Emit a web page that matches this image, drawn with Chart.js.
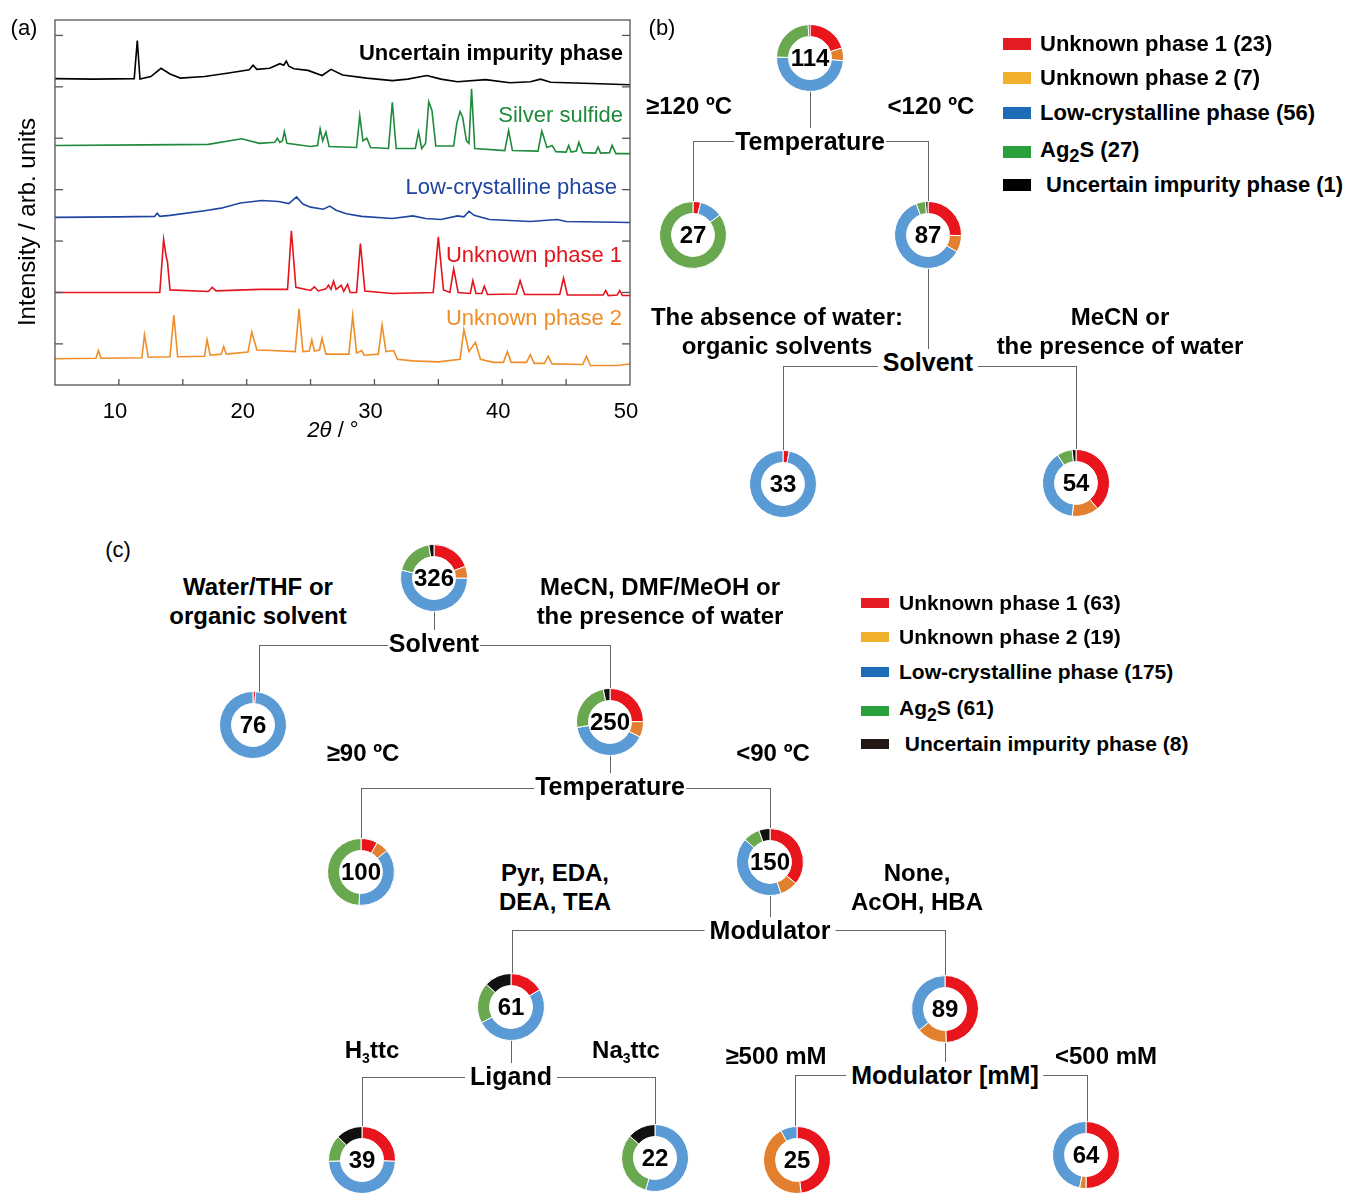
<!DOCTYPE html>
<html><head><meta charset="utf-8">
<script src="https://cdn.jsdelivr.net/npm/chart.js@4/dist/chart.umd.min.js"></script>
<style>
body{margin:0;background:#fff;}
#root{position:relative;width:1351px;height:1193px;overflow:hidden;background:#fff;font-family:"Liberation Sans",Arial,sans-serif;color:#000;}
.t{position:absolute;white-space:nowrap;transform:translate(-50%,-50%);text-align:center;}
.b{font-weight:bold;}
.node{font-weight:bold;font-size:25px;background:#fff;padding:0 5px;line-height:26px;}
.br{font-weight:bold;font-size:24px;line-height:29px;}
.ln{position:absolute;background:#666;}
.sw{position:absolute;}
.lg{position:absolute;white-space:nowrap;font-weight:bold;transform:translateY(-50%);}
.num{font-weight:bold;font-size:24px;}
canvas{display:block;}
</style></head>
<body><div id="root">
<canvas id="xrd" width="660" height="450" style="position:absolute;left:0;top:0;width:660px;height:450px;"></canvas>
</div>
<script>
// ---------------- data ----------------
const xTickValues = [10, 20, 30, 40, 50];
const seriesNames = ['Uncertain impurity phase', 'Silver sulfide', 'Low-crystalline phase', 'Unknown phase 1', 'Unknown phase 2'];
const seriesColors = ['#000000', '#1f8a3c', '#1f45a0', '#e3141c', '#ef8e28'];

const xrdUncertain = [[5,5.16],[8,5.15],[11.2,5.16],[11.44,5.90],[11.65,5.15],[12.5,5.2],[13.3,5.36],[14.0,5.25],[14.8,5.17],[16.7,5.2],[18.6,5.27],[20.2,5.33],[20.5,5.42],[20.8,5.34],[21.8,5.36],[22.6,5.45],[22.9,5.42],[23.1,5.50],[23.3,5.40],[23.7,5.35],[24.8,5.32],[25.9,5.22],[26.6,5.34],[27.5,5.23],[29.4,5.17],[31.4,5.12],[32.6,5.15],[34.1,5.22],[35.2,5.15],[36.5,5.10],[38.7,5.14],[40.6,5.08],[42.2,5.10],[43.0,5.15],[43.8,5.09],[47.6,5.06],[50,5.04]];
const xrdSilver = [[5,3.86],[12,3.87],[17,3.88],[19.6,3.99],[21,3.9],[22.2,3.92],[22.4,4.0],[22.6,3.92],[22.8,3.95],[22.95,4.13],[23.15,3.9],[25.0,3.84],[25.55,3.86],[25.75,4.18],[25.95,3.95],[26.2,4.12],[26.45,3.84],[28.6,3.82],[28.85,4.44],[29.1,3.95],[29.4,4.0],[29.7,3.82],[31.1,3.80],[31.4,4.70],[31.7,3.80],[33.2,3.80],[33.45,4.12],[33.7,3.80],[34.0,3.9],[34.25,4.71],[34.5,4.54],[34.8,3.85],[36.2,3.85],[36.45,4.30],[36.7,4.52],[36.9,4.41],[37.2,3.95],[37.4,3.9],[37.6,4.96],[37.85,3.80],[40.2,3.76],[40.5,4.15],[40.8,3.76],[42.8,3.75],[43.1,4.14],[43.5,3.82],[43.9,3.86],[44.2,3.74],[45.0,3.73],[45.2,3.86],[45.4,3.73],[45.8,3.75],[46.0,3.92],[46.3,3.72],[47.3,3.71],[47.5,3.83],[47.7,3.71],[48.4,3.72],[48.6,3.86],[48.9,3.70],[50,3.70]];
const xrdLowCryst = [[5,2.46],[10,2.47],[12.8,2.48],[13,2.54],[13.2,2.48],[14,2.5],[16.7,2.59],[18,2.64],[19.5,2.74],[21.2,2.79],[22.5,2.77],[23.3,2.73],[23.9,2.86],[24.4,2.72],[25.0,2.66],[26.0,2.62],[26.5,2.68],[27.0,2.6],[27.8,2.53],[29.0,2.48],[31.4,2.44],[33.0,2.49],[34.0,2.44],[35.2,2.42],[36.5,2.49],[37.0,2.47],[37.4,2.58],[37.8,2.5],[39,2.42],[42.2,2.38],[44.3,2.42],[45,2.38],[50,2.36]];
const xrdUnknown1 = [[5,1.0],[13.2,1.0],[13.5,2.03],[13.7,1.7],[13.8,1.6],[14.0,1.05],[17.0,1.02],[17.3,1.1],[17.6,1.03],[21,1.06],[23.2,1.06],[23.5,2.20],[23.85,1.1],[25.0,1.04],[25.3,1.11],[25.6,1.03],[26.2,1.07],[26.4,1.14],[26.6,1.06],[26.8,1.22],[27.0,1.06],[27.4,1.14],[27.6,1.02],[27.9,1.16],[28.1,1.0],[28.6,1.0],[28.9,1.95],[29.25,1.03],[31.4,0.98],[34.6,1.0],[35.0,2.08],[35.4,1.05],[35.9,1.0],[36.2,1.46],[36.55,1.0],[37.5,0.98],[37.7,1.23],[37.95,0.98],[38.4,0.98],[38.6,1.12],[38.85,0.96],[41.1,0.97],[41.4,1.23],[41.75,0.96],[44.5,0.96],[44.8,1.28],[45.1,0.95],[47.9,0.95],[48.1,1.04],[48.3,0.94],[49.0,0.95],[49.2,1.04],[49.4,0.94],[50,0.94]];
const xrdUnknown2 = [[5,-0.29],[8.2,-0.28],[8.4,-0.13],[8.6,-0.28],[11.8,-0.27],[12.0,0.175],[12.3,-0.26],[14.0,-0.25],[14.3,0.56],[14.6,-0.25],[16.7,-0.24],[16.9,0.08],[17.15,-0.22],[18.0,-0.2],[18.2,-0.05],[18.4,-0.2],[20.1,-0.16],[20.4,0.23],[20.8,-0.12],[22,-0.13],[23.8,-0.15],[24.1,0.68],[24.4,-0.15],[24.9,-0.14],[25.1,0.08],[25.3,-0.14],[25.7,-0.12],[25.9,0.11],[26.2,-0.2],[28.0,-0.2],[28.3,0.55],[28.6,-0.18],[29.0,-0.13],[29.2,-0.22],[30.3,-0.2],[30.6,0.37],[30.9,-0.15],[31.5,-0.13],[31.8,-0.3],[33,-0.33],[35,-0.35],[36.7,-0.3],[37.0,0.28],[37.4,-0.15],[37.9,0.03],[38.3,-0.3],[39.3,-0.36],[40.1,-0.36],[40.4,-0.15],[40.7,-0.36],[41.9,-0.36],[42.2,-0.21],[42.5,-0.38],[43.3,-0.38],[43.6,-0.24],[43.9,-0.39],[46.3,-0.4],[46.6,-0.24],[46.9,-0.42],[49,-0.42],[50,-0.39]];

const phaseNames = ['Unknown phase 1', 'Unknown phase 2', 'Low-crystalline phase', 'Ag<sub>2</sub>S', 'Uncertain impurity phase'];
const donutColors = ['#e8161c', '#e3802f', '#5b9bd5', '#6aa84f', '#111111'];
const legendColorsB = ['#e41d24', '#f1b12d', '#1c6db5', '#2aa03c', '#000000'];
const legendColorsC = ['#e41d24', '#f1b12d', '#1c6db5', '#2aa03c', '#231815'];
const legendCountsB = [23, 7, 56, 27, 1];
const legendCountsC = [63, 19, 175, 61, 8];

// tree (b) node compositions: [unknown1, unknown2, low-cryst, Ag2S, uncertain]
const b114 = [23, 7, 56, 27, 1];
const b27 = [1, 0, 3, 23, 0];
const b87 = [22, 7, 53, 4, 1];
const b33 = [1, 0, 32, 0, 0];
const b54 = [21, 7, 21, 4, 1];
// tree (c)
const c326 = [63, 19, 175, 61, 8];
const c76 = [1, 0, 75, 0, 0];
const c250 = [62, 19, 100, 61, 8];
const c100 = [8, 6, 37, 49, 0];
const c150 = [54, 13, 63, 12, 8];
const c61 = [10, 0, 31, 12, 8];
const c89 = [44, 13, 32, 0, 0];
const c39 = [10, 0, 19, 5, 5];
const c22 = [0, 0, 12, 7, 3];
const c25 = [12, 11, 2, 0, 0];
const c64 = [32, 2, 30, 0, 0];

// ---------------- panel (a) ----------------
const xrdSets = [xrdUncertain, xrdSilver, xrdLowCryst, xrdUnknown1, xrdUnknown2];
const innerTicks = {
  id: 'innerTicks',
  afterDraw(chart) {
    const ctx = chart.ctx, a = chart.chartArea, xs = chart.scales.x, ys = chart.scales.y;
    ctx.save();
    ctx.strokeStyle = '#555'; ctx.lineWidth = 1.3;
    ctx.strokeRect(a.left, a.top, a.right - a.left, a.bottom - a.top);
    for (let v = 10; v < 50; v += 5) {
      const p = xs.getPixelForValue(v);
      ctx.beginPath(); ctx.moveTo(p, a.bottom); ctx.lineTo(p, a.bottom - 6); ctx.stroke();
    }
    for (let v = 0; v <= 6; v++) {
      const p = ys.getPixelForValue(v);
      ctx.beginPath(); ctx.moveTo(a.left, p); ctx.lineTo(a.left + 8, p); ctx.stroke();
      ctx.beginPath(); ctx.moveTo(a.right, p); ctx.lineTo(a.right - 8, p); ctx.stroke();
    }
    ctx.restore();
  }
};
new Chart(document.getElementById('xrd'), {
  type: 'line',
  data: {
    datasets: xrdSets.map((s, i) => ({
      label: seriesNames[i],
      data: s.map(p => ({x: p[0], y: p[1]})),
      borderColor: seriesColors[i], borderWidth: 1.6, pointRadius: 0, tension: 0, fill: false
    }))
  },
  options: {
    responsive: false, animation: false, devicePixelRatio: 1,
    layout: {padding: {left: 55, top: 20, right: 30, bottom: 0}},
    plugins: {legend: {display: false}, tooltip: {enabled: false}},
    scales: {
      x: {type: 'linear', min: 5, max: 50,
        grid: {display: false, drawTicks: false}, border: {display: false},
        afterBuildTicks(s) { s.ticks = xTickValues.map(v => ({value: v})); },
        afterFit(s) { s.height = 65; s.paddingLeft = 0; s.paddingRight = 0; },
        ticks: {padding: 14, labelOffset: -4, color: '#000', font: {family: 'Liberation Sans', size: 22}, maxRotation: 0, autoSkip: false}},
      y: {display: false, min: -0.8, max: 6.3}
    }
  },
  plugins: [innerTicks]
});

// ---------------- helpers ----------------
const root = document.getElementById('root');
function txt(html, x, y, cls, style) {
  const d = document.createElement('div');
  d.className = 't ' + (cls || '');
  d.innerHTML = html;
  d.style.left = x + 'px'; d.style.top = y + 'px';
  if (style) d.style.cssText += style;
  root.appendChild(d);
  return d;
}
function hl(x1, x2, y) { const d = document.createElement('div'); d.className = 'ln'; d.style.cssText += `left:${x1}px;top:${y}px;width:${x2 - x1}px;height:1.3px;`; root.appendChild(d); }
function vl(x, y1, y2) { const d = document.createElement('div'); d.className = 'ln'; d.style.cssText += `left:${x}px;top:${y1}px;width:1.3px;height:${y2 - y1}px;`; root.appendChild(d); }
function donut(values, cx, cy) {
  const size = 68;
  const c = document.createElement('canvas');
  c.width = size; c.height = size;
  c.style.cssText = `position:absolute;left:${cx - size / 2}px;top:${cy - size / 2}px;width:${size}px;height:${size}px;`;
  root.appendChild(c);
  new Chart(c, {
    type: 'doughnut',
    data: {labels: phaseNames, datasets: [{data: values, backgroundColor: donutColors, borderColor: '#fff', borderWidth: values.map(v => v > 0 ? 1 : 0)}]},
    options: {responsive: false, animation: false, devicePixelRatio: 1, cutout: '64%',
      plugins: {legend: {display: false}, tooltip: {enabled: false}}}
  });
  const total = values.reduce((a, b) => a + b, 0);
  txt(String(total), cx, cy, 'num');
}
function legend(colors, counts, x, ys, tx, sw, fs) {
  counts.forEach((n, i) => {
    const s = document.createElement('div');
    s.className = 'sw';
    s.style.cssText += `left:${x}px;top:${ys[i] - sw[1] / 2}px;width:${sw[0]}px;height:${sw[1]}px;background:${colors[i]};`;
    root.appendChild(s);
    const l = document.createElement('div');
    l.className = 'lg';
    l.innerHTML = (i === 4 ? '&nbsp;' : '') + phaseNames[i] + ' (' + n + ')';
    l.style.cssText += `left:${tx}px;top:${ys[i]}px;font-size:${fs}px;`;
    root.appendChild(l);
  });
}

// ---------------- panel (a) texts ----------------
txt('(a)', 24, 28, '', 'font-size:22px;');
txt('Intensity / arb. units', 27, 222, '', 'font-size:24px;transform:translate(-50%,-50%) rotate(-90deg);');
txt('<i>2θ</i> / °', 333, 430, '', 'font-size:22px;');
const labA = [[seriesNames[0], 623, 53, 'bold'], [seriesNames[1], 623, 115, 'normal'], [seriesNames[2], 617, 187, 'normal'], [seriesNames[3], 622, 255, 'normal'], [seriesNames[4], 622, 318, 'normal']];
labA.forEach((l, i) => {
  txt(l[0], l[1], l[2], '', `font-size:22px;font-weight:${l[3]};color:${seriesColors[i]};transform:translate(-100%,-50%);`);
});

// ---------------- panel (b) ----------------
txt('(b)', 662, 28, '', 'font-size:22px;');
vl(810, 91, 130); hl(693, 928, 141); vl(693, 141, 202); vl(928, 141, 202);
vl(928, 268, 352); hl(783, 1076, 366); vl(783, 366, 451); vl(1076, 366, 450);
donut(b114, 810, 58);
donut(b27, 693, 235);
donut(b87, 928, 235);
donut(b33, 783, 484);
donut(b54, 1076, 483);
txt('Temperature', 810, 141, 'node', 'padding:0 1px;');
txt('Solvent', 928, 362, 'node');
txt('≥120 ºC', 689, 105, 'br');
txt('&lt;120 ºC', 931, 105, 'br');
txt('The absence of water:<br>organic solvents', 777, 331, 'br');
txt('MeCN or<br>the presence of water', 1120, 331, 'br');
legend(legendColorsB, legendCountsB, 1003, [44, 78, 113, 152, 185], 1040, [28, 12], 22);

// ---------------- panel (c) ----------------
txt('(c)', 118, 550, '', 'font-size:22px;');
vl(434, 611, 632); hl(259, 610, 645); vl(259, 645, 692); vl(610, 645, 689);
vl(610, 755, 776); hl(361, 770, 788); vl(361, 788, 839); vl(770, 788, 829);
vl(770, 895, 918); hl(512, 945, 930); vl(512, 930, 974); vl(945, 930, 976);
vl(511, 1040, 1064); hl(362, 655, 1077); vl(362, 1077, 1127); vl(655, 1077, 1125);
vl(945, 1042, 1062); hl(795, 1087, 1075); vl(795, 1075, 1127); vl(1087, 1075, 1122);
donut(c326, 434, 578);
donut(c76, 253, 725);
donut(c250, 610, 722);
donut(c100, 361, 872);
donut(c150, 770, 862);
donut(c61, 511, 1007);
donut(c89, 945, 1009);
donut(c39, 362, 1160);
donut(c22, 655, 1158);
donut(c25, 797, 1160);
donut(c64, 1086, 1155);
txt('Solvent', 434, 643, 'node', 'padding:0 1px;');
txt('Temperature', 610, 786, 'node', 'padding:0 1px;');
txt('Modulator', 770, 930, 'node');
txt('Ligand', 511, 1076, 'node');
txt('Modulator [mM]', 945, 1075, 'node');
txt('Water/THF or<br>organic solvent', 258, 601, 'br');
txt('MeCN, DMF/MeOH or<br>the presence of water', 660, 601, 'br');
txt('≥90 ºC', 363, 752, 'br');
txt('&lt;90 ºC', 773, 752, 'br');
txt('Pyr, EDA,<br>DEA, TEA', 555, 887, 'br');
txt('None,<br>AcOH, HBA', 917, 887, 'br');
txt('H<sub style="font-size:14px">3</sub>ttc', 372, 1054, 'br');
txt('Na<sub style="font-size:14px">3</sub>ttc', 626, 1054, 'br');
txt('≥500 mM', 776, 1055, 'br');
txt('&lt;500 mM', 1106, 1055, 'br');
legend(legendColorsC, legendCountsC, 861, [603, 637, 672, 711, 744], 899, [28, 10], 21);
</script>
</body></html>
